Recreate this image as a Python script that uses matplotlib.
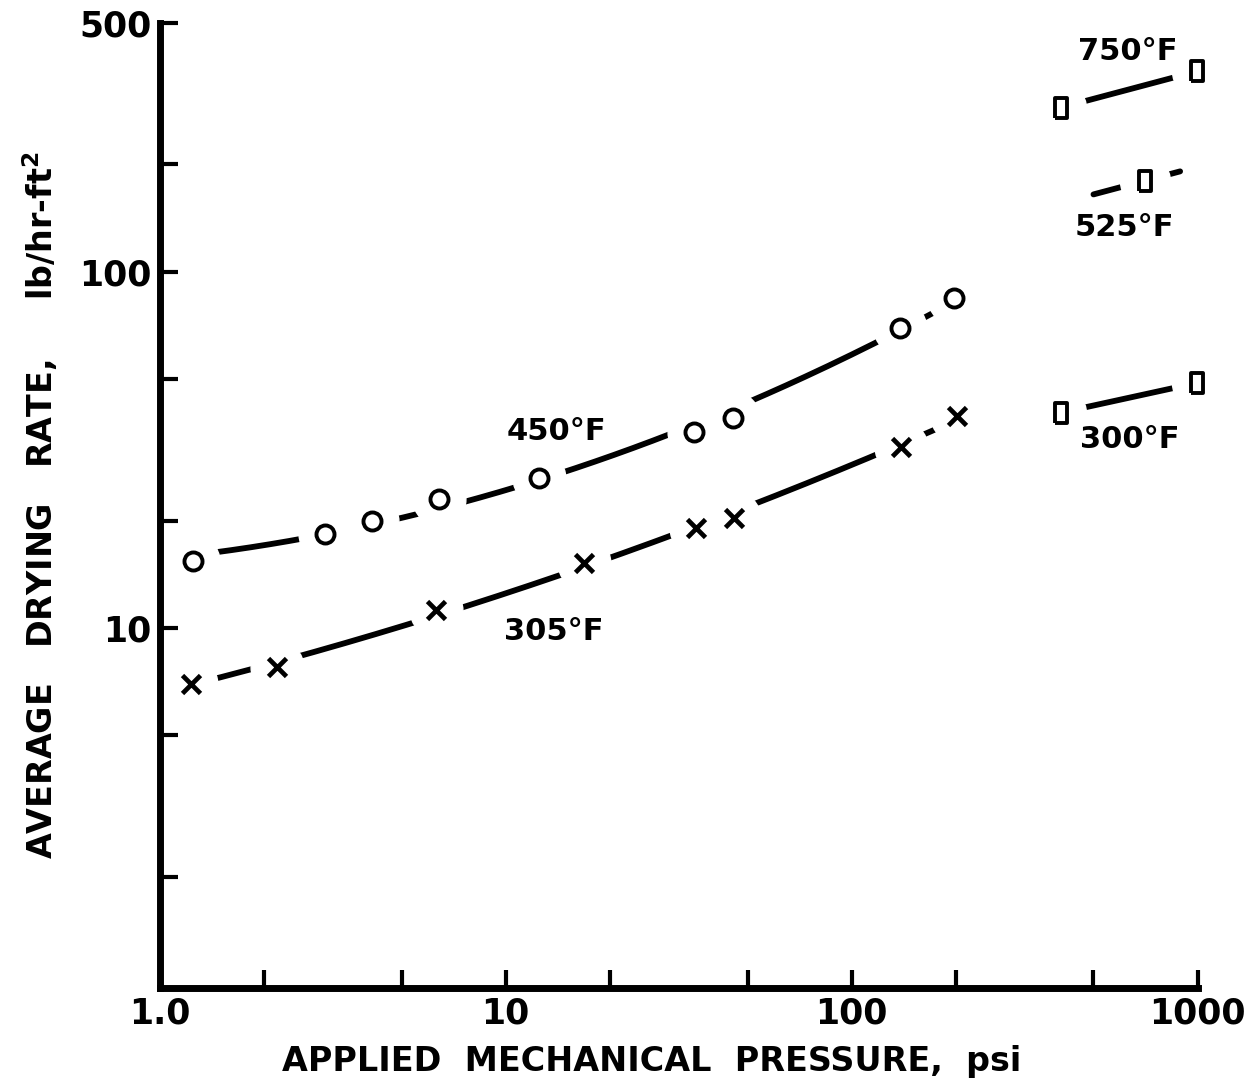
import numpy as np
import matplotlib.pyplot as plt
from matplotlib.ticker import FixedLocator, FixedFormatter, NullFormatter

# data
p_450 = [1.25, 3.0, 4.1, 6.4, 12.5, 35, 45.5, 138, 198]
r_450 = [15.4, 18.4, 19.9, 23.0, 26.4, 35.5, 38.9, 69.7, 84.5]

p_305 = [1.23, 2.18, 6.3, 16.8, 35.4, 45.6, 139, 201]
r_305 = [6.96, 7.77, 11.2, 15.2, 19.1, 20.4, 32.2, 39.4]

p_750 = [402, 993]
r_750 = [289, 365]

p_525 = [703]
r_525 = [180]
p_525_span = [500, 890]   # extent of the short line drawn through the single point

p_300 = [402, 993]
r_300 = [40.2, 48.7]

x_ticks = [1, 10, 100, 1000]
x_ticklabels = ['1.0', '10', '100', '1000']
x_minor = [2, 5, 20, 50, 200, 500]
y_ticks = [10, 100, 500]
y_ticklabels = ['10', '100', '500']
y_minor = [2, 5, 20, 50, 200]

plt.rcParams['font.family'] = 'DejaVu Sans'
plt.rcParams['font.weight'] = 'bold'

fig = plt.figure(figsize=(12.58, 10.84), dpi=100)
ax = fig.add_axes([0.127, 0.0886, 0.825, 0.8904])
ax.set_xscale('log')
ax.set_yscale('log')
ax.set_xlim(1, 1000)
ax.set_ylim(0.975, 500)

LW = 4.2


def fit_line(px, py, deg):
    lx, ly = np.log10(px), np.log10(py)
    coef = np.polyfit(lx, ly, deg)
    xs = np.linspace(lx.min(), lx.max(), 200)
    return 10 ** xs, 10 ** np.polyval(coef, xs)


# curves
for px, py, deg in [(p_450, r_450, 2), (p_305, r_305, 2), (p_750, r_750, 1), (p_300, r_300, 1)]:
    xs, ys = fit_line(np.array(px), np.array(py), deg)
    ax.plot(xs, ys, color='black', lw=LW, solid_capstyle='round', zorder=2)

# 525 F: single point, short line parallel to the 750 F line
lx750, ly750 = np.log10(p_750), np.log10(r_750)
slope = (ly750[1] - ly750[0]) / (lx750[1] - lx750[0])
xs = np.linspace(np.log10(p_525_span[0]), np.log10(p_525_span[1]), 50)
ys = np.log10(r_525[0]) + slope * (xs - np.log10(p_525[0]))
ax.plot(10 ** xs, 10 ** ys, color='black', lw=LW, solid_capstyle='round', zorder=2)

# tall rectangle marker
rect = [(-0.62, -1), (0.62, -1), (0.62, 1), (-0.62, 1), (-0.62, -1)]

# white halos to leave gaps in the lines around the symbols
for px, py, m, s in [(p_450, r_450, 'o', 38), (p_305, r_305, 'o', 38),
                     (p_750, r_750, 'o', 36), (p_300, r_300, 'o', 36), (p_525, r_525, 'o', 36)]:
    ax.plot(px, py, ls='none', marker=m, ms=s, mfc='white', mec='white', zorder=3, clip_on=False)

ax.plot(p_450, r_450, ls='none', marker='o', ms=13, mfc='white', mec='black', mew=2.8, zorder=4)
ax.plot(p_305, r_305, ls='none', marker='x', ms=13, mec='black', mew=3.4, zorder=4)
for px, py in [(p_750, r_750), (p_525, r_525), (p_300, r_300)]:
    ax.plot(px, py, ls='none', marker=rect, ms=14, mfc='white', mec='black', mew=2.8,
            zorder=4, clip_on=False)

# curve labels
lab = dict(fontsize=22, fontweight='bold', ha='center', va='center')
ax.text(14.0, 35.6, '450°F', **lab)
ax.text(13.8, 9.74, '305°F', **lab)
ax.text(628, 415, '750°F', **lab)
ax.text(615, 133, '525°F', **lab)
ax.text(636, 33.7, '300°F', **lab)

# axes styling
for s in ['top', 'right']:
    ax.spines[s].set_visible(False)
for s in ['left', 'bottom']:
    ax.spines[s].set_linewidth(5)
    ax.spines[s].set_capstyle('projecting')

ax.xaxis.set_major_locator(FixedLocator(x_ticks))
ax.xaxis.set_major_formatter(FixedFormatter(x_ticklabels))
ax.xaxis.set_minor_locator(FixedLocator(x_minor))
ax.xaxis.set_minor_formatter(NullFormatter())
ax.yaxis.set_major_locator(FixedLocator(y_ticks))
ax.yaxis.set_major_formatter(FixedFormatter(y_ticklabels))
ax.yaxis.set_minor_locator(FixedLocator(y_minor))
ax.yaxis.set_minor_formatter(NullFormatter())

ax.tick_params(which='both', direction='in', length=13, width=3, labelsize=25, pad=6)

ax.set_xlabel('APPLIED  MECHANICAL  PRESSURE,  psi', fontsize=24, fontweight='bold')
ax.xaxis.set_label_coords(0.474, -0.059)
ax.set_ylabel('AVERAGE   DRYING   RATE,     lb/hr-ft$^\\mathbf{2}$', fontsize=24, fontweight='bold')
ax.yaxis.set_label_coords(-0.096, 0.5)

fig.savefig('out.png', dpi=100)
